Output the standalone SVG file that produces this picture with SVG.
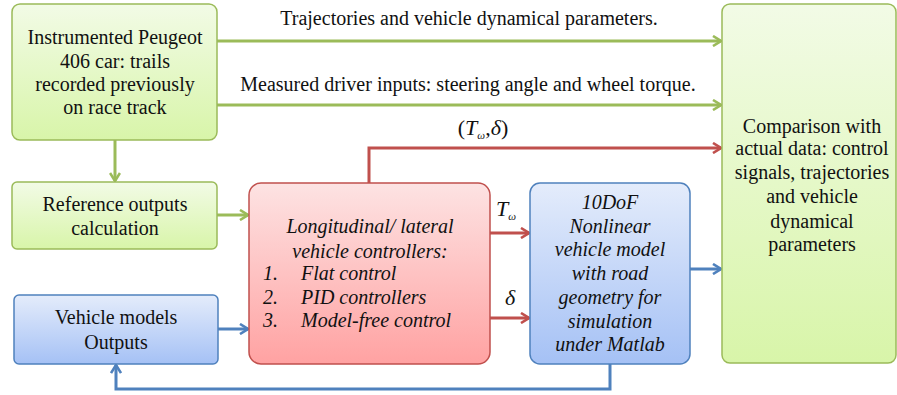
<svg xmlns="http://www.w3.org/2000/svg" width="897" height="395" viewBox="0 0 897 395">
<defs>
<linearGradient id="gG" x1="0" y1="0" x2="0" y2="1"><stop offset="0" stop-color="#f2fbe6"/><stop offset="1" stop-color="#d8f5a9"/></linearGradient>
<linearGradient id="gR" x1="0" y1="0" x2="0" y2="1"><stop offset="0" stop-color="#fde3e3"/><stop offset="1" stop-color="#ffa2a2"/></linearGradient>
<linearGradient id="gB" x1="0" y1="0" x2="0" y2="1"><stop offset="0" stop-color="#e4ecfb"/><stop offset="1" stop-color="#a5c1f5"/></linearGradient>
<marker id="aG" viewBox="0 0 12 12" refX="11" refY="6" markerWidth="12" markerHeight="12" markerUnits="userSpaceOnUse" orient="auto"><path d="M3,1 L11,6 L3,11" fill="none" stroke="#9bbb59" stroke-width="2.6"/></marker>
<marker id="aR" viewBox="0 0 12 12" refX="11" refY="6" markerWidth="12" markerHeight="12" markerUnits="userSpaceOnUse" orient="auto"><path d="M3,1 L11,6 L3,11" fill="none" stroke="#c0504d" stroke-width="2.6"/></marker>
<marker id="aB" viewBox="0 0 12 12" refX="11" refY="6" markerWidth="12" markerHeight="12" markerUnits="userSpaceOnUse" orient="auto"><path d="M3,1 L11,6 L3,11" fill="none" stroke="#4f81bd" stroke-width="2.6"/></marker>
</defs>
<style>
text{font-family:"Liberation Serif","Times New Roman",serif;font-size:20px;fill:#111;text-anchor:middle}
.i{font-style:italic}
.l{text-anchor:start}
.bg{fill:url(#gG);stroke:#9bbb59;stroke-width:1.5}
.br{fill:url(#gR);stroke:#c0504d;stroke-width:1.5}
.bb{fill:url(#gB);stroke:#4f81bd;stroke-width:1.5}
.cg{fill:none;stroke:#9bbb59;stroke-width:3;marker-end:url(#aG)}
.cr{fill:none;stroke:#c0504d;stroke-width:3;marker-end:url(#aR)}
.cb{fill:none;stroke:#4f81bd;stroke-width:3;marker-end:url(#aB)}
</style>
<g id="connectors">
<path class="cg" d="M217,41 H721"/>
<path class="cg" d="M217,105 H721"/>
<path class="cg" d="M115,140 V181"/>
<path class="cg" d="M217,215 H248"/>
<path class="cb" d="M218,329 H248"/>
<path class="cr" d="M369,183 V148 H721"/>
<path class="cr" d="M490,233 H529"/>
<path class="cr" d="M490,318 H529"/>
<path class="cb" d="M690,269 H721"/>
<path class="cb" d="M610,364 V389 H116 V365"/>
<text x="469" y="25">Trajectories and vehicle dynamical parameters.</text>
<text x="468" y="91">Measured driver inputs: steering angle and wheel torque.</text>
<text x="483" y="135" style="font-size:22px">(<tspan class="i">T</tspan><tspan class="i" style="font-size:11px" dy="4">ω</tspan><tspan dy="-4">,</tspan><tspan class="i">δ</tspan>)</text>
<text class="i" x="506" y="216" style="font-size:22px">T<tspan style="font-size:11px" dy="4">ω</tspan></text>
<text class="i" x="510" y="305" style="font-size:22px">δ</text>
</g>
<g id="instrumented">
<rect class="bg" x="12" y="4" width="205" height="136" rx="8"/>
<text x="115" y="44">Instrumented Peugeot</text>
<text x="115" y="68">406 car: trails</text>
<text x="115" y="91">recorded previously</text>
<text x="115" y="114">on race track</text>
</g>
<g id="reference">
<rect class="bg" x="12" y="182" width="205" height="67" rx="5"/>
<text x="115" y="211">Reference outputs</text>
<text x="115" y="235">calculation</text>
</g>
<g id="vehicle-outputs">
<rect class="bb" x="14" y="295" width="204" height="69" rx="5"/>
<text x="116" y="324">Vehicle models</text>
<text x="116" y="349">Outputs</text>
</g>
<g id="controllers">
<rect class="br" x="249" y="183" width="241" height="181" rx="12"/>
<text class="i" x="370" y="233">Longitudinal/ lateral</text>
<text class="i" x="370" y="258">vehicle controllers:</text>
<text class="i l" x="263" y="280">1.</text><text class="i l" x="301" y="280">Flat control</text>
<text class="i l" x="263" y="304">2.</text><text class="i l" x="301" y="304">PID controllers</text>
<text class="i l" x="263" y="327">3.</text><text class="i l" x="301" y="327">Model-free control</text>
</g>
<g id="model">
<rect class="bb" x="530" y="183" width="160" height="181" rx="10"/>
<text class="i" x="610" y="209">10DoF</text>
<text class="i" x="610" y="233">Nonlinear</text>
<text class="i" x="610" y="256">vehicle model</text>
<text class="i" x="610" y="280">with road</text>
<text class="i" x="610" y="304">geometry for</text>
<text class="i" x="610" y="328">simulation</text>
<text class="i" x="610" y="351">under Matlab</text>
</g>
<g id="comparison">
<rect class="bg" x="722" y="4" width="174" height="359" rx="8"/>
<text x="812" y="133">Comparison with</text>
<text x="812" y="155">actual data: control</text>
<text x="812" y="179">signals, trajectories</text>
<text x="812" y="203">and vehicle</text>
<text x="812" y="228">dynamical</text>
<text x="812" y="251">parameters</text>
</g>
</svg>
